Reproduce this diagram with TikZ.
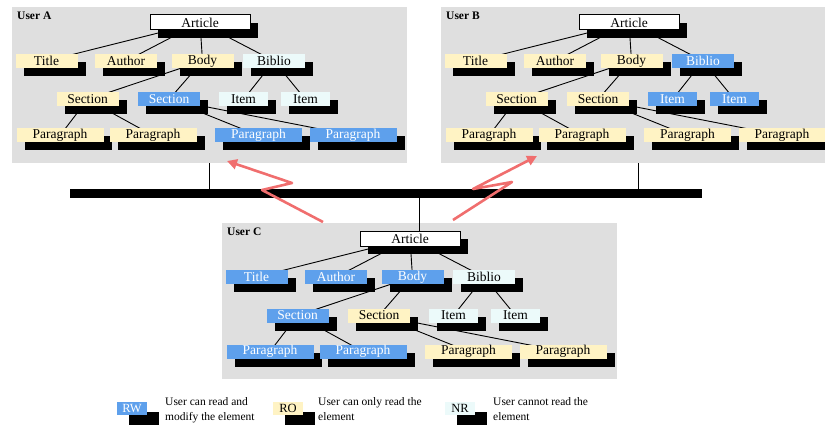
\documentclass[tikz,border=0pt]{standalone}
\usepackage{fontspec}
\setmainfont{Liberation Serif}
\usetikzlibrary{shadows,arrows.meta,calc}

\definecolor{panelgray}{RGB}{223,223,223}
\definecolor{roylw}{RGB}{255,243,196}
\definecolor{rwblue}{RGB}{94,160,236}
\definecolor{nrcyan}{RGB}{236,250,250}
\definecolor{linkred}{RGB}{240,110,110}

\pgfdeclarelayer{panels}
\pgfdeclarelayer{links}
\pgfsetlayers{panels,links,main}

\newcommand\boxfont{\fontsize{13.5}{14}\selectfont}

\tikzset{
  elem/.style={rectangle, minimum height=14pt, inner sep=0pt, font=\boxfont,
    general shadow={fill=black, shadow xshift=8pt, shadow yshift=-8pt}},
  rw/.style={elem, fill=rwblue, text=white},
  ro/.style={elem, fill=roylw, text=black},
  nr/.style={elem, fill=nrcyan, text=black},
  artbox/.style={elem, fill=white, draw=black, line width=1pt,
    minimum width=100pt, minimum height=15pt},
  lvl/.style={minimum width=62pt},
  itm/.style={minimum width=49pt},
  para/.style={minimum width=87pt},
  edge/.style={line width=0.9pt, black},
  panel/.style={rectangle, fill=panelgray, inner sep=0pt,
    minimum width=395pt, minimum height=156pt},
  userlabel/.style={anchor=north west, inner sep=0pt,
    font=\bfseries\fontsize{11.5}{12}\selectfont},
  busbar/.style={rectangle, fill=black, inner sep=0pt,
    minimum width=632pt, minimum height=8pt},
  tap/.style={line width=0.8pt, black},
  bolt/.style={line width=2.6pt, linkred, line join=round,
    -{Triangle[length=10pt,width=10pt]}},
  legbox/.style={rectangle, minimum width=30pt, minimum height=13pt,
    inner sep=0pt, font=\fontsize{12.5}{13}\selectfont,
    general shadow={fill=black, shadow xshift=12pt, shadow yshift=-10pt}},
  legtext/.style={anchor=north west, inner sep=0pt, align=left,
    font=\fontsize{11.5}{15}\selectfont},
}

% one user's copy of the document tree; #1 = name prefix, #2 = caption
\newcommand\drawtree[2]{%
  \begin{pgfonlayer}{panels}
    \node[panel] (#1panel) at (209.5,85) {};
  \end{pgfonlayer}
  \node[userlabel] (#1label) at (17,12) {#2};
  \node[artbox] (#1art) at (200,22.5) {Article};
  \node[cTitle,lvl] (#1title) at (46.5,61) {Title};
  \node[cAuthor,lvl] (#1author) at (126,61) {Author};
  \node[cBody,lvl] (#1body) at (202.5,61) {Body};
  \node[cBiblio,lvl] (#1biblio) at (274,61) {Biblio};
  \node[cSecA,lvl] (#1secA) at (87.5,99.5) {Section};
  \node[cSecB,lvl] (#1secB) at (169,99.5) {Section};
  \node[cItemA,itm] (#1itemA) at (243.5,99.5) {Item};
  \node[cItemB,itm] (#1itemB) at (305.5,99.5) {Item};
  \node[cParA,para] (#1parA) at (60,135.5) {Paragraph};
  \node[cParB,para] (#1parB) at (153,135.5) {Paragraph};
  \node[cParC,para] (#1parC) at (258.5,135.5) {Paragraph};
  \node[cParD,para] (#1parD) at (353,135.5) {Paragraph};
  \begin{pgfonlayer}{links}
    \draw[edge] (#1art.center) -- (#1title.center);
    \draw[edge] (#1art.center) -- (#1author.center);
    \draw[edge] (#1art.center) -- (#1body.center);
    \draw[edge] (#1art.center) -- (#1biblio.center);
    \draw[edge] (#1body.center) -- (#1secA.center);
    \draw[edge] (#1body.center) -- (#1secB.center);
    \draw[edge] (#1biblio.center) -- (#1itemA.center);
    \draw[edge] (#1biblio.center) -- (#1itemB.center);
    \draw[edge] (#1secA.center) -- (#1parA.center);
    \draw[edge] (#1secA.center) -- (#1parB.center);
    \draw[edge] (#1secB.center) -- (#1parC.center);
    \draw[edge] (#1secB.center) -- (#1parD.center);
  \end{pgfonlayer}
}

\begin{document}
\begin{tikzpicture}[x=1pt, y=-1pt]
  \useasboundingbox (0,0) rectangle (825,433);
  \clip (0,0) rectangle (825,433);

  % user A
  \begin{scope}[
      cTitle/.style=ro, cAuthor/.style=ro, cBody/.style=ro, cBiblio/.style=nr,
      cSecA/.style=ro, cSecB/.style=rw, cItemA/.style=nr, cItemB/.style=nr,
      cParA/.style=ro, cParB/.style=ro, cParC/.style=rw, cParD/.style=rw]
    \drawtree{a}{User A}
  \end{scope}

  % user B
  \begin{scope}[shift={(429,0)},
      cTitle/.style=ro, cAuthor/.style=ro, cBody/.style=ro, cBiblio/.style=rw,
      cSecA/.style=ro, cSecB/.style=ro, cItemA/.style=rw, cItemB/.style=rw,
      cParA/.style=ro, cParB/.style=ro, cParC/.style=ro, cParD/.style=ro]
    \drawtree{b}{User B}
  \end{scope}

  % user C
  \begin{scope}[shift={(210,216)},
      cTitle/.style=rw, cAuthor/.style=rw, cBody/.style=rw, cBiblio/.style=nr,
      cSecA/.style=rw, cSecB/.style=ro, cItemA/.style=nr, cItemB/.style=nr,
      cParA/.style=rw, cParB/.style=rw, cParC/.style=ro, cParD/.style=ro]
    \drawtree{c}{User C}
  \end{scope}

  % network bus and the taps of the three users
  \node[busbar] (bus) at (386,193.5) {};
  \draw[tap] (apanel.south) -- (apanel.south |- bus.north);
  \draw[tap] (bpanel.south) -- (bpanel.south |- bus.north);
  \draw[tap] (cpanel.north |- cart.north) -- (cpanel.north |- bus.south);

  % update messages sent from C to A and B
  \coordinate (la0) at (323,222);
  \coordinate (la1) at (262,190);
  \coordinate (la2) at (292,183);
  \coordinate (la3) at (227,161);
  \draw[bolt] (la0) -- (la1) -- (la2) -- (la3);
  \coordinate (rb0) at (453,220);
  \coordinate (rb1) at (512,182);
  \coordinate (rb2) at (473,189);
  \coordinate (rb3) at (537,156);
  \draw[bolt] (rb0) -- (rb1) -- (rb2) -- (rb3);

  % legend
  \node[legbox, fill=rwblue, text=white] (lrw) at (132,408.5) {RW};
  \node[legtext] (lrwt) at (165,397) {User can read and\\modify the element};
  \node[legbox, fill=roylw] (lro) at (288,408.5) {RO};
  \node[legtext] (lrot) at (318,397) {User can only read the\\element};
  \node[legbox, fill=nrcyan] (lnr) at (460,408.5) {NR};
  \node[legtext] (lnrt) at (493,397) {User cannot read the\\element};
\end{tikzpicture}
\end{document}
